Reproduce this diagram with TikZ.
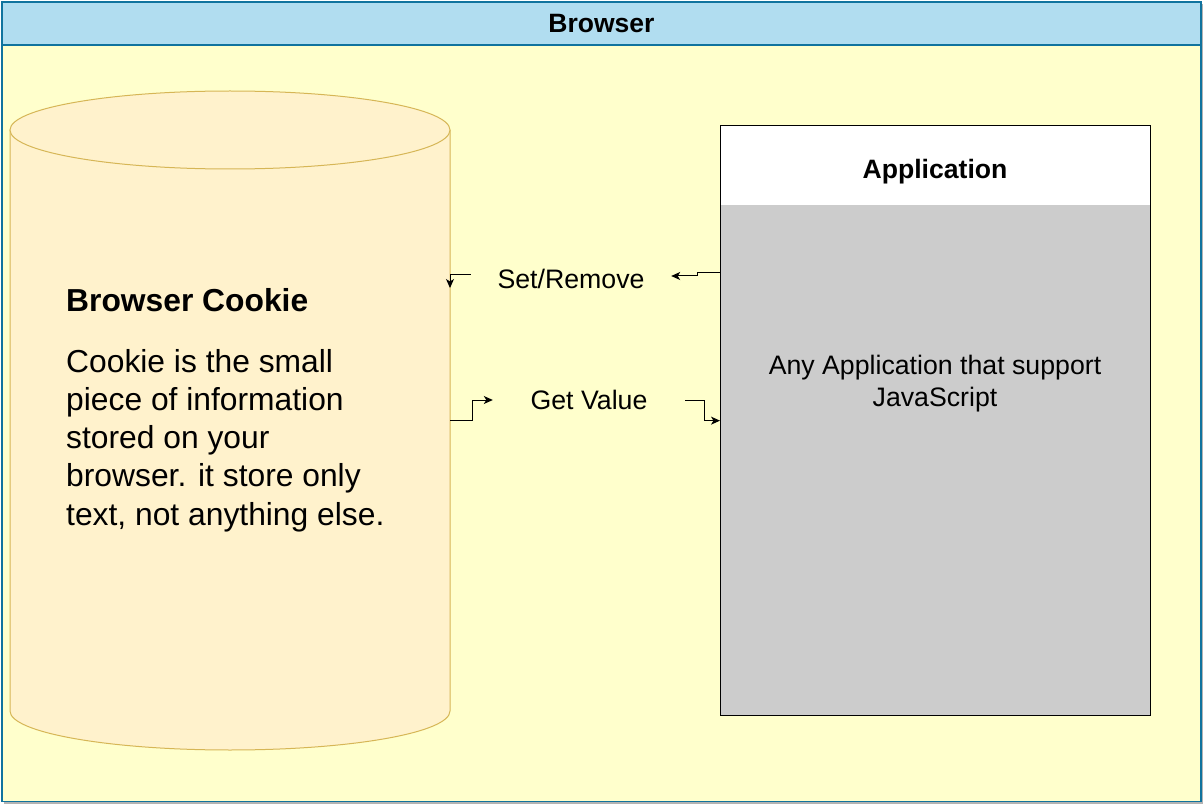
\documentclass[tikz,border=0pt]{standalone}
\usepackage{fontspec}
\setmainfont{Liberation Sans}
\usetikzlibrary{arrows.meta}
\definecolor{hdrfill}{HTML}{B1DDF0}
\definecolor{hdrline}{HTML}{10739E}
\definecolor{bodyfill}{HTML}{FFFFCC}
\definecolor{cylfill}{HTML}{FFF2CC}
\definecolor{cylline}{HTML}{D6B656}
\definecolor{appgray}{HTML}{CCCCCC}
\definecolor{shadowgray}{HTML}{B3B3B3}
\tikzset{
  arr/.style={draw=black, line width=1pt, -{Stealth[length=9pt,width=8pt,inset=2.5pt]}},
  basefont/.style={font=\fontsize{26.7}{32}\selectfont},
  lbl/.style={basefont, inner sep=0pt, text height=19.5pt, text depth=0pt},
}
\begin{document}
\begin{tikzpicture}[x=1pt,y=-1pt]
\useasboundingbox (0,0) rectangle (1203,805);
% shadow and frame
\fill[shadowgray] (4,4) rectangle (1203,804);
\node[draw=hdrline, fill=bodyfill, line width=1.8pt, minimum width=1199pt, minimum height=799.5pt, inner sep=0pt, anchor=north west] (frame) at (1,1) {};
\node[draw=hdrline, fill=hdrfill, line width=1.8pt, minimum width=1199pt, minimum height=43pt, inner sep=0pt, anchor=north west, font=\bfseries\fontsize{26.5}{32}\selectfont] (title) at (1,1) {Browser};
% cylinder
\filldraw[fill=cylfill, draw=cylline, line width=1pt]
  (10,130) -- (10,711) arc[start angle=180, end angle=360, x radius=220pt, y radius=39pt] -- (450,130);
\filldraw[fill=cylfill, draw=cylline, line width=1pt] (230,130) ellipse [x radius=220pt, y radius=39pt];
\coordinate (cylE) at (450,420);
\node[anchor=base west, inner sep=0pt, font=\bfseries\fontsize{31.8}{38.25}\selectfont] (cookiehead) at (66,312) {Browser Cookie};
\node[anchor=north west, inner sep=0pt, align=left, font=\fontsize{31.8}{38.25}\selectfont] (cookietext) at (66,349)
  {Cookie is the small\\piece of information\\stored on your\\browser. it store only\\text, not anything else.};
% application
\fill[white] (720,125) rectangle (1150,205);
\fill[appgray] (720,205) rectangle (1150,715);
\node[draw=black, line width=1.3pt, minimum width=430pt, minimum height=590pt, inner sep=0pt, anchor=north west] (app) at (720,125) {};
\node[lbl, font=\bfseries\fontsize{26.6}{32}\selectfont] (apphead) at (935,168.5) {Application};
\node[basefont, anchor=north, inner sep=0pt, align=center] (apptext) at (935,354.5) {Any Application that support\\JavaScript};
% labels
\node[lbl, minimum width=200pt] (setlbl) at (571,279) {Set/Remove};
\node[lbl, minimum width=192pt] (gv) at (589,400) {Get Value};
% connectors
\draw[arr] ([yshift=148pt]app.west) -- ++(-23,0) |- ([yshift=3pt]setlbl.east);
\draw[arr] ([yshift=4pt]setlbl.west) -| ([yshift=132pt]cylE);
\draw[arr] (cylE) -- ++(22,0) |- (gv.west);
\draw[arr] (gv.east) -- ++(19,0) |- (app.west);
\end{tikzpicture}
\end{document}
